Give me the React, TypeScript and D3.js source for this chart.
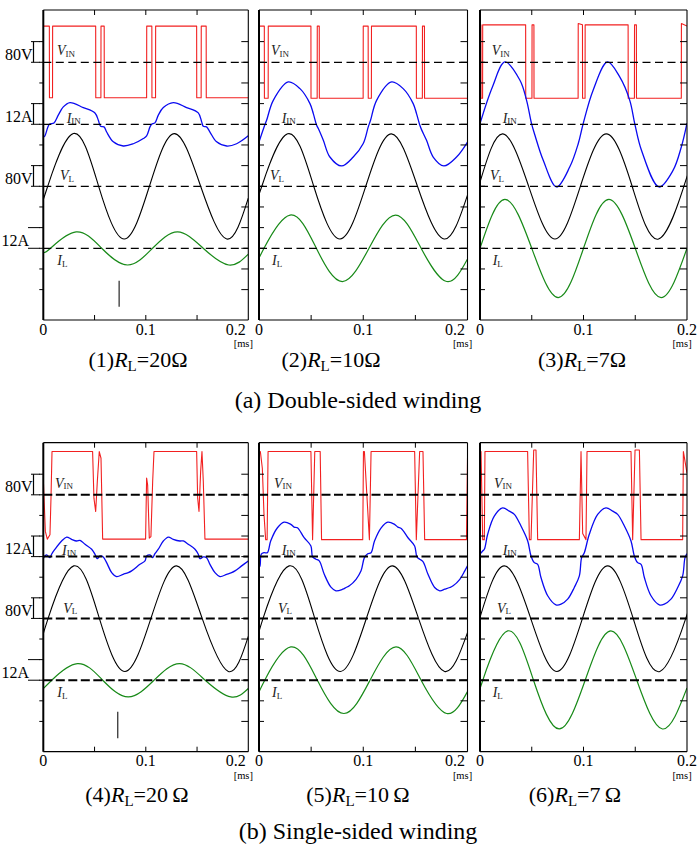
import React, { useRef, useEffect } from "react";
import * as d3 from "d3";

type Pt = [number, number];

// time axis [ms]
const timeDomain = [0, 0.2];
const minorTicks = [0.05, 0.1, 0.15];
const timeTickLabels = [0, 0.1, 0.2];
// vertical axis in scope divisions
const divDomain = [-3.47, 11.53];
const divTicks = d3.range(-2, 11);

// traces: VIN, IIN, VL, IL
const traceMain = ["V", "I", "V", "I"];
const traceSub = ["IN", "IN", "L", "L"];
const traceColors = ["#f22020", "#0a0af0", "#000000", "#188a18"];
const traceWidths = [1.1, 1.3, 1.1, 1.2];
const perDiv = [80, 12, 80, 12];
const zeroDiv = [9, 6, 3, 0];
const scaleLabels = ["80V", "12A", "80V", "12A"];

const panelNums = ["(1)", "(2)", "(3)", "(4)", "(5)", "(6)"];
const loads = ["20", "10", "7", "20\u2009", "10\u2009", "7\u2009"];
const captions = ["(a) Double-sided winding", "(b) Single-sided winding"];

// ---- input voltage [V] ----
const vin1: Pt[] = [[0,140],[0.0059,140],[0.006,-137],[0.009,-137],[0.0091,140],[0.0511,140],[0.0512,-137],[0.0562,-137],[0.0563,140],[0.0594,140],[0.0595,-137],[0.1008,-137],[0.1009,140],[0.1059,140],[0.106,-137],[0.1095,-137],[0.1096,140],[0.1496,140],[0.1497,-137],[0.154,-137],[0.1541,140],[0.1589,140],[0.159,-137],[0.2,-137]];
const vin2: Pt[] = [[0,140],[0.0051,140],[0.0052,-139],[0.0088,-139],[0.0089,140],[0.0498,140],[0.0499,-139],[0.0558,-139],[0.0559,140],[0.0578,140],[0.0579,-139],[0.0999,-139],[0.1,140],[0.1047,140],[0.1048,-139],[0.1078,-139],[0.1079,140],[0.1509,140],[0.151,-139],[0.1567,-139],[0.1568,140],[0.1587,140],[0.1588,-139],[0.2,-139]];
const vin3: Pt[] = [[0,145],[0.0009,145],[0.001,-139],[0.0025,-139],[0.0026,145],[0.0441,145],[0.0442,-139],[0.0502,-139],[0.0503,145],[0.0521,145],[0.0522,-139],[0.0948,-139],[0.0949,150],[0.099,145],[0.0991,-139],[0.1015,-139],[0.1016,145],[0.1431,145],[0.1432,-139],[0.1492,-139],[0.1493,145],[0.1511,145],[0.1512,-139],[0.1945,-139],[0.1946,150],[0.2,140]];
const vin4: Pt[] = [[0,61],[0.002,-142],[0.0039,-172],[0.0065,-155],[0.0075,-13],[0.0085,168],[0.0481,168],[0.0494,-13],[0.0511,-65],[0.0527,52],[0.0546,168],[0.0563,142],[0.0579,-172],[0.0998,-172],[0.1008,65],[0.1018,38],[0.1034,-168],[0.105,-162],[0.1067,52],[0.108,168],[0.1496,168],[0.1506,-13],[0.1519,-65],[0.1535,90],[0.1548,168],[0.1561,52],[0.1577,-172],[0.2,-172]];
const vin5: Pt[] = [[0,168],[0.0013,168],[0.0032,103],[0.0048,-77],[0.0064,-174],[0.0078,-174],[0.0087,168],[0.0498,168],[0.0514,-174],[0.0535,168],[0.0587,168],[0.06,-174],[0.0995,-174],[0.1002,168],[0.1011,168],[0.1059,-174],[0.1075,168],[0.1493,168],[0.1509,-174],[0.1541,168],[0.1573,168],[0.1589,-174],[0.199,-174],[0.2,142]];
const vin6: Pt[] = [[0,168],[0.001,168],[0.0026,-174],[0.0042,-174],[0.0048,168],[0.046,168],[0.0477,-174],[0.0493,-174],[0.0519,174],[0.0541,174],[0.0557,-174],[0.096,-174],[0.0976,168],[0.0992,-150],[0.1024,-174],[0.1034,168],[0.1459,168],[0.1475,-174],[0.1498,174],[0.154,174],[0.1556,-174],[0.1958,-174],[0.1965,168],[0.2,84]];

// ---- input current [A] ----
const iin1: Pt[] = [[0,-7.5],[0.0016,-6.7],[0.0059,0],[0.0104,0.8],[0.0146,5.3],[0.0195,10.1],[0.026,12.6],[0.039,9.7],[0.0504,6.6],[0.0537,2.3],[0.0559,-1.2],[0.0592,-1.5],[0.0618,-4.5],[0.0683,-10.2],[0.078,-12.6],[0.0878,-11.3],[0.0976,-8.3],[0.1008,-6.7],[0.1041,-1.5],[0.1057,0],[0.1089,0.8],[0.1122,5.3],[0.1171,9.7],[0.1268,12.6],[0.1398,9.7],[0.1512,6.6],[0.1545,1.4],[0.1561,-1.2],[0.1593,-1.5],[0.1626,-4.5],[0.1691,-10.2],[0.1789,-12.6],[0.1886,-11.3],[0.2,-6.7]];
const iin2: Pt[] = [[0,-10.3],[0.0058,0],[0.0073,2.3],[0.0137,13.9],[0.0281,24.6],[0.0393,20.7],[0.0489,12],[0.0521,6.2],[0.0553,-0.6],[0.0569,-2.5],[0.0617,-9.3],[0.068,-19],[0.0792,-24.2],[0.0904,-19],[0.1,-11.2],[0.1048,-1.5],[0.107,2.3],[0.1128,13.9],[0.1272,24.6],[0.1383,20.7],[0.1479,12],[0.1511,6.2],[0.1543,-0.6],[0.1559,-3.1],[0.1607,-9.3],[0.1671,-19],[0.1773,-24.2],[0.1895,-19],[0.2,-10.3]];
const iin3: Pt[] = [[0,0.4],[0.012,21.7],[0.0241,36.2],[0.0386,25.6],[0.045,13.9],[0.0498,0.4],[0.0531,-6.4],[0.0611,-20.9],[0.074,-36.4],[0.0868,-24.7],[0.0949,-11.3],[0.0997,0.4],[0.1093,19.8],[0.1232,36.2],[0.135,27.5],[0.1447,13.9],[0.1495,0.4],[0.156,-15.1],[0.173,-36.4],[0.1865,-26.8],[0.1945,-13.2],[0.2,0.7]];
const iin4: Pt[] = [[0,-1.0],[0.0016,0.4],[0.0033,1.0],[0.0065,-0.6],[0.0081,1.4],[0.0114,4.3],[0.0179,9.1],[0.0228,11.4],[0.0276,10.1],[0.0325,9.1],[0.0358,9.5],[0.0407,7.2],[0.0472,4.3],[0.0504,1.4],[0.0527,-1.2],[0.0553,0.4],[0.0585,-0.2],[0.0618,-3.5],[0.0667,-9.3],[0.0715,-11.6],[0.078,-10.3],[0.0829,-9.3],[0.0862,-8.3],[0.0943,-4.5],[0.0992,-2.5],[0.1008,0.4],[0.1041,1.0],[0.1067,-0.6],[0.1089,1.7],[0.1122,4.3],[0.1171,9.1],[0.122,11.4],[0.1268,10.1],[0.1333,9.1],[0.1366,9.1],[0.1415,7.2],[0.148,4.3],[0.1512,1.4],[0.1528,-1.2],[0.1561,-0.2],[0.1593,-0.6],[0.1626,-4.5],[0.1675,-9.3],[0.1724,-11.6],[0.1789,-10.3],[0.1837,-9.3],[0.187,-8.3],[0.1935,-5.4],[0.2,-2.5]];
const iin5: Pt[] = [[0,-6.5],[0.001,-5.4],[0.0022,1.4],[0.0048,2.3],[0.008,2.3],[0.0112,9.1],[0.0177,16.8],[0.0241,20.1],[0.0305,18.8],[0.0337,17.2],[0.0369,16.8],[0.0433,11.0],[0.0498,6.2],[0.0514,-0.2],[0.0546,-1.5],[0.0578,-2.5],[0.0626,-10.3],[0.069,-17.8],[0.0738,-19.9],[0.0803,-19.0],[0.0835,-18.0],[0.0867,-17.0],[0.0931,-13.2],[0.0979,-8.3],[0.1011,-0.6],[0.1043,1.7],[0.1075,2.3],[0.1108,9.1],[0.1172,16.8],[0.1236,20.1],[0.13,18.8],[0.1332,17.2],[0.1364,16.4],[0.1429,11.0],[0.1493,6.2],[0.1515,-0.2],[0.1541,-1.5],[0.1573,-2.9],[0.1621,-10.3],[0.1685,-18.0],[0.1734,-19.9],[0.1782,-19.0],[0.183,-18.0],[0.1862,-17.0],[0.1926,-13.2],[0.1974,-8.3],[0.2,-5.4]];
const iin6: Pt[] = [[0,1.4],[0.0026,3.3],[0.0042,4.3],[0.0074,13.0],[0.0138,23.6],[0.0219,28.4],[0.0283,26.5],[0.0332,24.6],[0.0396,17.8],[0.0461,9.1],[0.0493,0.4],[0.0525,-3.5],[0.0557,-4.5],[0.0589,-12.2],[0.0654,-22.8],[0.0734,-28.1],[0.0783,-27.7],[0.0847,-24.8],[0.0911,-18.0],[0.096,-11.2],[0.0982,-0.6],[0.1008,2.3],[0.1056,13.0],[0.1137,24.6],[0.1217,28.4],[0.1282,26.5],[0.133,24.6],[0.1395,17.8],[0.1459,9.1],[0.1491,0.4],[0.1523,-3.5],[0.1556,-4.5],[0.1588,-12.2],[0.1652,-22.8],[0.1733,-28.1],[0.1781,-27.7],[0.1845,-24.8],[0.191,-18.0],[0.1958,-11.2],[0.1981,-0.6],[0.2,1.7]];

// ---- load voltage [V] ----
const vl1: Pt[] = [[0,-50],[0.0043,0],[0.0293,204],[0.054,0],[0.079,-204],[0.1035,0],[0.128,204],[0.1535,0],[0.179,-204],[0.2,-46]];
const vl2: Pt[] = [[0,-25],[0.0027,0],[0.0275,203],[0.0525,0],[0.0777,-204],[0.1024,0],[0.127,203],[0.152,0],[0.1775,-204],[0.2,-34]];
const vl3: Pt[] = [[0,16],[0.022,203],[0.047,0],[0.0724,-204],[0.097,0],[0.122,203],[0.147,0],[0.1725,-204],[0.197,0],[0.2,31]];
const vl4: Pt[] = [[0,-60],[0.0047,0],[0.0297,204],[0.0547,0],[0.0797,-206],[0.105,0],[0.13,204],[0.155,0],[0.1805,-206],[0.2,-70]];
const vl5: Pt[] = [[0,-60],[0.0039,0],[0.0289,204],[0.0535,0],[0.078,-206],[0.103,0],[0.128,204],[0.153,0],[0.178,-206],[0.2,-55]];
const vl6: Pt[] = [[0,4],[0.0235,204],[0.049,0],[0.0743,-206],[0.099,0],[0.1233,204],[0.148,0],[0.1738,-206],[0.1988,0],[0.2,4]];

// ---- load current [A] ----
const il1: Pt[] = [[0,-2.5],[0.0071,0],[0.032,9.5],[0.057,0],[0.0823,-9.7],[0.1066,0],[0.131,9.5],[0.156,0],[0.181,-9.7],[0.2,-3.4]];
const il2: Pt[] = [[0,-5.8],[0.0048,0],[0.0298,19.3],[0.055,0],[0.08,-19.3],[0.1055,0],[0.131,19.3],[0.1555,0],[0.18,-19.3],[0.2,-6.2]];
const il3: Pt[] = [[0,0],[0.0241,28.4],[0.05,0],[0.0756,-28.6],[0.1,0],[0.1245,28.4],[0.15,0],[0.175,-28.6],[0.2,0]];
const il4: Pt[] = [[0,-4.8],[0.0082,0],[0.0332,9.7],[0.058,0],[0.0829,-9.7],[0.108,0],[0.133,9.7],[0.158,0],[0.183,-9.7],[0.2,-4.8]];
const il5: Pt[] = [[0,-7],[0.0055,0],[0.0305,19.4],[0.056,0],[0.0815,-19.4],[0.1065,0],[0.1315,19.4],[0.1555,0],[0.18,-19.4],[0.2,-6.6]];
const il6: Pt[] = [[0,-4.8],[0.0027,0],[0.0267,28.7],[0.0517,0],[0.0766,-28.4],[0.1016,0],[0.1265,28.7],[0.1515,0],[0.1763,-28.4],[0.2,-4.5]];

// gray cursor marks in panels (1) and (4): [panel, time, from div, to div]
const cursorMarks = [[0, 0.074, -1.57, -2.83], [3, 0.0726, -1.53, -2.82]];

const vinData = [vin1, vin2, vin3, vin4, vin5, vin6];
const iinData = [iin1, iin2, iin3, iin4, iin5, iin6];
const vlData = [vl1, vl2, vl3, vl4, vl5, vl6];
const ilData = [il1, il2, il3, il4, il5, il6];

// layout
const colX = [[43.3, 248.3], [259, 467.5], [480, 687]];
const rowY = [[10, 320], [442.7, 751.7]];
const labelDiv = [9.55, 6.3, 3.5, -0.6];
const labelDx = [
  [13.7, 23.4, 16.7, 14], [12, 22.7, 11, 13], [11.7, 22.7, 10, 12.7],
  [11.7, 18.7, 20, 14], [15, 22.7, 19, 13], [14, 22.7, 17, 12.7]
];
const titleX = [138, 331, 582, 137, 358, 575];
const titleY = [367, 802];
const tickLabelY = [335, 766];
const msY = [347, 779];
const captionY = [408, 839];

const SERIF = "Liberation Serif, Times New Roman, Times, serif";

export default function App() {
  const ref = useRef<SVGSVGElement>(null);

  useEffect(() => {
    const svg = d3.select(ref.current);
    svg.selectAll("*").remove();

    const series = [vinData, iinData, vlData, ilData];
    const curves = [d3.curveLinear, d3.curveCatmullRom.alpha(0.5), d3.curveNatural, d3.curveNatural];

    const txt = (sel: any) => sel.style("font-family", SERIF);

    for (let i = 0; i < 6; i++) {
      const col = i % 3;
      const row = Math.floor(i / 3);
      const [x0, x1] = colX[col];
      const [y0, y1] = rowY[row];
      const x = d3.scaleLinear().domain(timeDomain).range([x0, x1]);
      const y = d3.scaleLinear().domain(divDomain).range([y1, y0]);
      const g = svg.append("g");

      g.append("clipPath").attr("id", `clip${i}`).append("rect")
        .attr("x", x0).attr("y", y0).attr("width", x1 - x0).attr("height", y1 - y0);
      const plot = g.append("g").attr("clip-path", `url(#clip${i})`);

      // waveforms
      series.forEach((s, k) => {
        const line = d3.line<Pt>()
          .x(d => x(d[0]))
          .y(d => y(zeroDiv[k] + d[1] / perDiv[k]))
          .curve(curves[k]);
        plot.append("path")
          .datum(s[i])
          .attr("d", line)
          .attr("fill", "none")
          .attr("stroke", traceColors[k])
          .attr("stroke-width", traceWidths[k])
          .attr("stroke-linejoin", "round");
      });

      // zero lines
      zeroDiv.forEach(z => {
        g.append("line")
          .attr("x1", x0).attr("x2", x1)
          .attr("y1", y(z)).attr("y2", y(z))
          .attr("stroke", "#000")
          .attr("stroke-width", row ? 2 : 1.3)
          .attr("stroke-dasharray", row ? "9,3.5" : "8,4.5");
      });

      cursorMarks.filter(m => m[0] === i).forEach(m => {
        g.append("line")
          .attr("x1", x(m[1])).attr("x2", x(m[1]))
          .attr("y1", y(m[2])).attr("y2", y(m[3]))
          .attr("stroke", "#444").attr("stroke-width", 1.4);
      });

      // frame
      g.append("line").attr("x1", x0).attr("x2", x1).attr("y1", y0).attr("y2", y0).attr("stroke", "#000").attr("stroke-width", 1.2);
      g.append("line").attr("x1", x0).attr("x2", x1).attr("y1", y1).attr("y2", y1).attr("stroke", "#000").attr("stroke-width", 1.2);
      g.append("line").attr("x1", x1).attr("x2", x1).attr("y1", y0).attr("y2", y1).attr("stroke", "#000").attr("stroke-width", 1.1);
      g.append("line").attr("x1", x0).attr("x2", x0).attr("y1", y0).attr("y2", y1).attr("stroke", "#000").attr("stroke-width", 2);

      // ticks
      divTicks.forEach(d => {
        g.append("line").attr("x1", x1 - 7).attr("x2", x1).attr("y1", y(d)).attr("y2", y(d)).attr("stroke", "#000").attr("stroke-width", 1);
        const lx = col === 0 ? x0 - 4 : x0 + 5;
        g.append("line").attr("x1", lx).attr("x2", x0).attr("y1", y(d)).attr("y2", y(d)).attr("stroke", "#000").attr("stroke-width", 1);
      });
      minorTicks.forEach(t => {
        g.append("line").attr("x1", x(t)).attr("x2", x(t)).attr("y1", y0).attr("y2", y0 + 5).attr("stroke", "#000").attr("stroke-width", 1);
        g.append("line").attr("x1", x(t)).attr("x2", x(t)).attr("y1", y1 - 5).attr("y2", y1).attr("stroke", "#000").attr("stroke-width", 1);
      });

      // time tick labels; the last one of the left columns sits just inside the panel edge
      timeTickLabels.forEach((t, j) => {
        const last = j === timeTickLabels.length - 1 && col < 2;
        g.append("text")
          .attr("x", last ? x(t) - 2.5 : x(t)).attr("y", tickLabelY[row])
          .attr("text-anchor", last ? "end" : "middle")
          .attr("font-size", 16)
          .call(txt)
          .text(t === 0 ? "0" : String(t));
      });
      g.append("text")
        .attr("x", x1 - 5).attr("y", msY[row])
        .attr("text-anchor", "middle")
        .attr("font-size", 10.5)
        .call(txt)
        .text("[ms]");

      // trace labels
      zeroDiv.forEach((z, k) => {
        const t = g.append("text")
          .attr("x", x0 + labelDx[i][k]).attr("y", y(labelDiv[k]) + 4.5)
          .attr("fill", "#222")
          .call(txt);
        t.append("tspan").attr("font-size", 14).attr("font-style", "italic").text(traceMain[k]);
        t.append("tspan").attr("font-size", 9).attr("dy", 1.5).text(traceSub[k]);
      });

      // volts/amps per division brackets on the first column
      if (col === 0) {
        zeroDiv.forEach((z, k) => {
          const ya = y(z + 1);
          const yb = y(z);
          const xs = k === 3 ? 28 : 31;
          g.append("line").attr("x1", xs).attr("x2", 40).attr("y1", ya).attr("y2", ya).attr("stroke", "#000").attr("stroke-width", 1);
          g.append("line").attr("x1", xs).attr("x2", 40).attr("y1", yb).attr("y2", yb).attr("stroke", "#000").attr("stroke-width", 1);
          if (k < 3) {
            g.append("line").attr("x1", 33.5).attr("x2", 33.5).attr("y1", ya).attr("y2", yb).attr("stroke", "#000").attr("stroke-width", 1.2);
          }
          g.append("text")
            .attr("x", k === 3 ? 29 : 32.5).attr("y", yb - 2.5)
            .attr("text-anchor", "end")
            .attr("font-size", 16)
            .call(txt)
            .text(scaleLabels[k]);
        });
      }

      // panel title
      const title = g.append("text")
        .attr("x", titleX[i]).attr("y", titleY[row])
        .attr("text-anchor", "middle")
        .attr("font-size", 22)
        .call(txt);
      title.append("tspan").text(panelNums[i]);
      title.append("tspan").attr("font-style", "italic").text("R");
      title.append("tspan").attr("font-size", 15).attr("dy", 4).text("L");
      title.append("tspan").attr("dy", -4).text(`=${loads[i]}\u03a9`);
    }

    captions.forEach((c, r) => {
      svg.append("text")
        .attr("x", 358).attr("y", captionY[r])
        .attr("text-anchor", "middle")
        .attr("font-size", 24)
        .call(txt)
        .text(c);
    });
  }, []);

  return (
    <svg
      ref={ref}
      width={697}
      height={850}
      style={{ position: "absolute", left: 0, top: 0, background: "#fff" }}
    ></svg>
  );
}
